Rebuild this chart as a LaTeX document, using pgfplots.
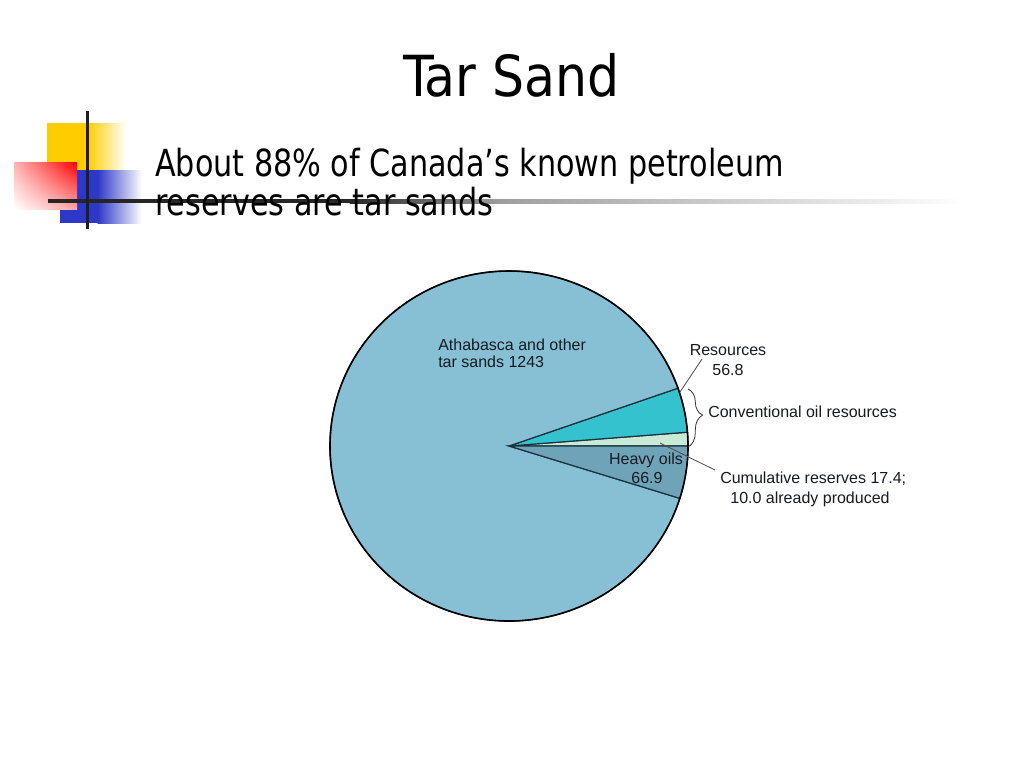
\documentclass[border=0pt]{standalone}
\usepackage{pgfplots}
\pgfplotsset{compat=1.18}
\usepackage{pgfplotstable}
\usepackage{graphicx}
\usepackage{fontspec}
\setmainfont{Liberation Sans}
\newfontfamily\slidefont{DejaVu Sans Condensed}
\usetikzlibrary{decorations.pathreplacing,shadings}
\definecolor{athab}{RGB}{135,192,212}
\definecolor{resour}{RGB}{52,194,207}
\definecolor{cumul}{RGB}{200,234,214}
\definecolor{heavy}{RGB}{111,164,184}
\definecolor{yel}{RGB}{255,204,0}
\definecolor{blu}{RGB}{46,56,200}
\definecolor{txt}{RGB}{20,28,34}
\definecolor{edge}{RGB}{25,50,60}

\pgfplotstableread{
value colour
17.4 cumul
56.8 resour
1243 athab
66.9 heavy
}\piedata

\begin{document}
\begin{tikzpicture}
% total
\xdef\total{0}
\pgfplotstableforeachcolumnelement{value}\of\piedata\as\v{%
  \pgfmathsetmacro\tt{\total+\v}\xdef\total{\tt}}
\begin{axis}[
  scale only axis, width=768pt, height=576pt,
  xmin=0, xmax=1024, ymin=0, ymax=768, y dir=reverse,
  hide axis, clip=false, at={(0,0)}, anchor=north west]
\fill[white] (axis cs:0,0) rectangle (axis cs:1024,768);
% decoration top-left
\fill[yel] (axis cs:47,123) rectangle (axis cs:88,192);
\shade[left color=yel, right color=white] (axis cs:87.5,123) rectangle (axis cs:126,192);
\fill[blu] (axis cs:60,170) rectangle (axis cs:98,223);
\shade[left color=blu, right color=white] (axis cs:97.5,170) rectangle (axis cs:142,223);
\shade[upper right=red, upper left=red!30!white, lower left=white, lower right=red!35!white] (axis cs:14,162) rectangle (axis cs:77,209);
\fill[black!85] (axis cs:48,199) rectangle (axis cs:350,203);
\shade[left color=black!85, right color=black!38] (axis cs:349.5,199) rectangle (axis cs:500,203);
\shade[left color=black!38, right color=white] (axis cs:499.5,199) rectangle (axis cs:965,203);
\fill[black!88] (axis cs:85.5,111) rectangle (axis cs:89,229);
% titles
\node[anchor=base, font=\slidefont\fontsize{42.5pt}{48pt}\selectfont, inner sep=0pt] at (axis cs:511.5,96) {\scalebox{0.99}[1]{Tar Sand}};
\node[anchor=base west, font=\slidefont\fontsize{28pt}{32pt}\selectfont, inner sep=0pt] at (axis cs:155,176) {\scalebox{0.9}[1]{About 88\% of Canada’s known petroleum}};
\node[anchor=base west, font=\slidefont\fontsize{28pt}{32pt}\selectfont, inner sep=0pt] at (axis cs:155,215) {\scalebox{0.9}[1]{reserves are tar sands}};
% pie
\xdef\start{0}
\pgfplotsforeachungrouped \i in {0,...,3}{%
  \pgfplotstablegetelem{\i}{value}\of\piedata \let\v\pgfplotsretval
  \pgfplotstablegetelem{\i}{colour}\of\piedata \let\c\pgfplotsretval
  \pgfmathsetmacro\fr{\v/\total}%
  \pgfmathsetmacro\en{\start+\fr*360}%
  \pgfmathsetmacro\sx{509+179*cos(\start)}%
  \pgfmathsetmacro\sy{446-175*sin(\start)}%
  \edef\tmp{\noexpand\filldraw[fill=\c, draw=edge, line width=0.9pt] (axis cs:509,446) -- (axis cs:\sx,\sy) arc[start angle=\start, end angle=\en, x radius=134.25pt, y radius=131.25pt] -- cycle;}%
  \tmp
  \xdef\start{\en}%
}
\draw[black, line width=1.2pt] (axis cs:509,446) ellipse [x radius=134.25pt, y radius=131.25pt];
% labels
\begin{scope}[every node/.style={inner sep=0pt, font=\fontsize{12pt}{14pt}\selectfont, text=txt}]
\node[anchor=base west] at (axis cs:438,350) {Athabasca and other};
\node[anchor=base west] at (axis cs:438,367) {tar sands 1243};
\node[anchor=base] at (axis cs:728,355) {Resources};
\node[anchor=base] at (axis cs:728,375) {56.8};
\node[anchor=base west] at (axis cs:708,417) {Conventional oil resources};
\node[anchor=base] at (axis cs:646,464) {Heavy oils};
\node[anchor=base] at (axis cs:647,483) {66.9};
\node[anchor=base west] at (axis cs:720,483) {Cumulative reserves 17.4;};
\node[anchor=base] at (axis cs:810,503) {10.0 already produced};
\end{scope}
\draw[black!70, line width=0.6pt] (axis cs:680,392) -- (axis cs:702,359);
\draw[black!70, line width=0.6pt] (axis cs:660,443) -- (axis cs:715,470);
\draw[black!80, line width=0.6pt, decorate, decoration={brace, amplitude=11pt, aspect=0.45}] (axis cs:688,389) -- (axis cs:688,447);
\end{axis}
\end{tikzpicture}
\end{document}
